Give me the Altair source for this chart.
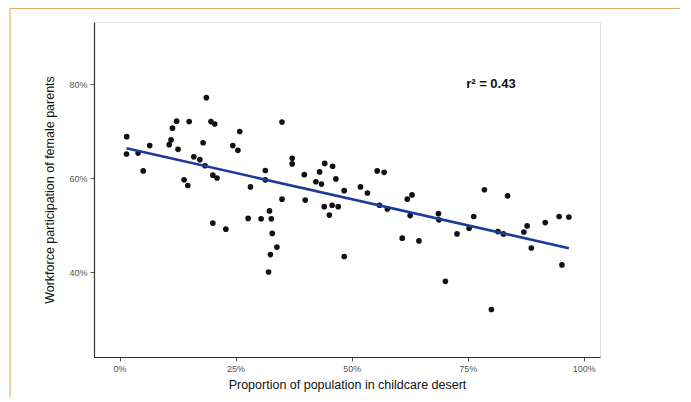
import altair as alt
import pandas as pd

# Proportion of population in childcare desert (%)
desert_pct = [1.55, 1.5, 4.0, 5.1, 6.5, 10.7, 11.1, 11.4, 12.3, 12.6,
              13.9, 14.7, 15.0, 16.0, 17.3, 18.4, 18.0, 18.7, 19.7, 20.5,
              20.1, 21.0, 20.1, 22.9, 24.4, 25.5, 25.9, 27.7, 28.2, 30.5,
              31.4, 31.4, 32.3, 32.7, 32.9, 33.9, 32.5, 32.1, 35.0, 35.0,
              37.2, 37.2, 39.8, 40.0, 42.3, 43.5, 43.1, 44.2, 45.9, 46.6,
              44.1, 45.8, 47.1, 45.2, 48.4, 48.4, 51.9, 53.4, 55.5, 57.0,
              56.0, 57.7, 62.0, 63.0, 62.6, 60.9, 64.5, 68.7, 68.8, 70.2,
              72.7, 75.3, 76.3, 78.6, 83.6, 80.1, 81.5, 82.7, 87.1, 87.8,
              88.7, 91.7, 94.7, 96.8, 95.3]
# Workforce participation of female parents (%)
participation_pct = [68.9, 65.2, 65.4, 61.6, 67.0, 67.2, 68.2, 70.7, 72.2, 66.2,
                     59.7, 58.5, 72.1, 64.6, 64.0, 62.7, 67.6, 77.2, 72.1, 71.6,
                     60.7, 60.1, 50.5, 49.2, 67.0, 66.0, 70.0, 51.5, 58.2, 51.4,
                     61.7, 59.7, 53.1, 51.4, 48.3, 45.4, 43.8, 40.1, 72.0, 55.6,
                     64.3, 63.1, 60.8, 55.4, 59.3, 58.8, 61.4, 63.2, 62.6, 59.9,
                     54.0, 54.3, 54.0, 52.2, 57.4, 43.4, 58.2, 56.9, 61.6, 61.3,
                     54.3, 53.5, 55.6, 56.5, 52.1, 47.3, 46.7, 52.5, 51.2, 38.1,
                     48.2, 49.4, 51.9, 57.6, 56.3, 32.1, 48.7, 48.2, 48.6, 49.9,
                     45.2, 50.6, 51.9, 51.8, 41.6]

x_ticks = [0, 25, 50, 75, 100]
y_ticks = [40, 60, 80]
annotation = ["r² =  0.43"]
annotation_x = [80]
annotation_y = [80]

df = pd.DataFrame({"desert": desert_pct, "participation": participation_pct})
ann = pd.DataFrame({"label": annotation, "x": annotation_x, "y": annotation_y})

xscale = alt.Scale(domain=[-5.5, 103.5], nice=False, zero=False)
yscale = alt.Scale(domain=[22, 93.3], nice=False, zero=False)

xaxis = alt.Axis(values=x_ticks, labelExpr="datum.value + '%'", grid=False,
                 title="Proportion of population in childcare desert",
                 domainColor="#333333", domainWidth=1.2, tickColor="#555555",
                 tickSize=4, labelColor="#555555", labelFontSize=9,
                 labelFont="Liberation Sans", titleFont="Liberation Sans",
                 titleFontSize=12.5, titleFontWeight="normal", titleColor="#111111",
                 labelPadding=3, titlePadding=5)
yaxis = alt.Axis(values=y_ticks, labelExpr="datum.value + '%'", grid=False,
                 title="Workforce participation of female parents",
                 domainColor="#333333", domainWidth=1.2, tickColor="#555555",
                 tickSize=4, labelColor="#555555", labelFontSize=9,
                 labelFont="Liberation Sans", titleFont="Liberation Sans",
                 titleFontSize=12.5, titleFontWeight="normal", titleColor="#111111",
                 labelPadding=3, titlePadding=12)

base = alt.Chart(df)

points = base.mark_circle(size=32, color="#111111", opacity=1).encode(
    x=alt.X("desert:Q", scale=xscale, axis=xaxis),
    y=alt.Y("participation:Q", scale=yscale, axis=yaxis),
)

fit = base.transform_regression("desert", "participation").mark_line(
    color="#1b3d98", strokeWidth=2.6
).encode(
    x=alt.X("desert:Q", scale=xscale),
    y=alt.Y("participation:Q", scale=yscale),
)

label = alt.Chart(ann).mark_text(
    font="Liberation Sans", fontSize=13, fontWeight="bold", color="#111111",
    align="center", baseline="middle"
).encode(
    x=alt.X("x:Q", scale=xscale),
    y=alt.Y("y:Q", scale=yscale),
    text="label:N",
)

# decorative frame around the whole figure
frame = alt.Chart(pd.DataFrame({"f": [0]})).mark_rect(
    fill=None, stroke="#e6c27e", strokeWidth=1.5, clip=False
).encode(
    x=alt.value(-84), x2=alt.value(595),
    y=alt.value(-14), y2=alt.value(377),
)
top_edge = alt.Chart(pd.DataFrame({"f": [0]})).mark_rule(
    color="#d99a55", strokeWidth=1.5, clip=False
).encode(
    x=alt.value(-84), x2=alt.value(595), y=alt.value(-14),
)

chart = (frame + top_edge + points + fit + label).properties(
    width=506, height=335,
    autosize=alt.AutoSizeParams(type="none"),
    padding={"left": 86, "top": 14, "right": 80, "bottom": 40},
).configure_view(stroke=None).configure(background="#ffffff")

chart.save("out.html", embed_options={"renderer": "svg", "actions": False})
